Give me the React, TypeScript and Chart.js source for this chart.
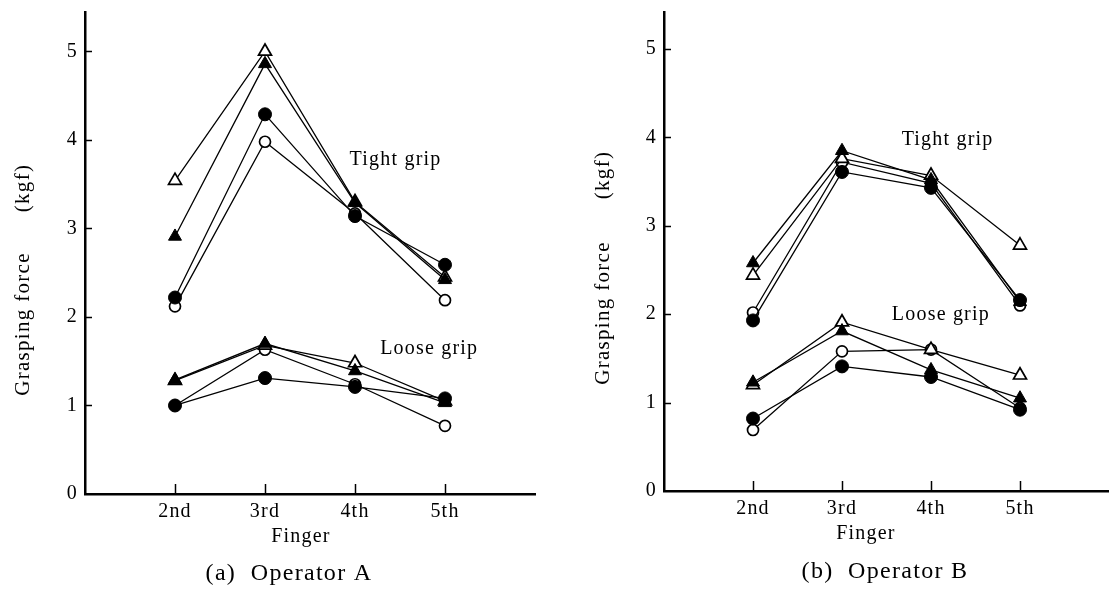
import React, { useEffect, useRef } from 'react';
import { Chart, registerables } from 'chart.js';

Chart.register(...registerables);

// ---------- data ----------
const fingers = ['2nd', '3rd', '4th', '5th'];
const fingerPos = [1, 2, 3, 4];
const yTicks = [0, 1, 2, 3, 4, 5];

// Operator A – tight grip
const aTightOpenTri = [3.54, 5.0, 3.3, 2.45];
const aTightFilledTri = [2.91, 4.86, 3.29, 2.42];
const aTightFilledCirc = [2.22, 4.29, 3.14, 2.59];
const aTightOpenCirc = [2.12, 3.98, 3.17, 2.19];
// Operator A – loose grip
const aLooseOpenTri = [1.28, 1.68, 1.48, 1.05];
const aLooseFilledTri = [1.29, 1.7, 1.39, 1.03];
const aLooseFilledCirc = [1.0, 1.31, 1.21, 1.08];
const aLooseOpenCirc = [1.0, 1.63, 1.24, 0.77];

// Operator B – tight grip
const bTightOpenTri = [2.44, 3.76, 3.57, 2.78];
const bTightFilledTri = [2.58, 3.85, 3.52, 2.14];
const bTightFilledCirc = [1.93, 3.61, 3.43, 2.16];
const bTightOpenCirc = [2.02, 3.72, 3.48, 2.1];
// Operator B – loose grip
const bLooseOpenTri = [1.2, 1.91, 1.6, 1.31];
const bLooseFilledTri = [1.23, 1.81, 1.37, 1.05];
const bLooseFilledCirc = [0.82, 1.41, 1.29, 0.92];
const bLooseOpenCirc = [0.69, 1.58, 1.6, 0.94];

const yAxisTitle = ['Grasping force', '(kgf)'];
const xAxisTitle = 'Finger';
const captionA = '(a)  Operator A';
const captionB = '(b)  Operator B';
const tightLabel = 'Tight grip';
const looseLabel = 'Loose grip';

type Series = { values: number[]; shape: 'triangle' | 'circle'; filled: boolean };

const seriesA: Series[] = [
  { values: aTightFilledTri, shape: 'triangle', filled: true },
  { values: aTightFilledCirc, shape: 'circle', filled: true },
  { values: aTightOpenTri, shape: 'triangle', filled: false },
  { values: aTightOpenCirc, shape: 'circle', filled: false },
  { values: aLooseFilledTri, shape: 'triangle', filled: true },
  { values: aLooseFilledCirc, shape: 'circle', filled: true },
  { values: aLooseOpenTri, shape: 'triangle', filled: false },
  { values: aLooseOpenCirc, shape: 'circle', filled: false },
];

const seriesB: Series[] = [
  { values: bTightFilledTri, shape: 'triangle', filled: true },
  { values: bTightFilledCirc, shape: 'circle', filled: true },
  { values: bTightOpenTri, shape: 'triangle', filled: false },
  { values: bTightOpenCirc, shape: 'circle', filled: false },
  { values: bLooseFilledTri, shape: 'triangle', filled: true },
  { values: bLooseFilledCirc, shape: 'circle', filled: true },
  { values: bLooseOpenTri, shape: 'triangle', filled: false },
  { values: bLooseOpenCirc, shape: 'circle', filled: false },
];

// ---------- layout ----------
const FONT = "'Liberation Serif', 'Times New Roman', serif";

type Panel = {
  series: Series[];
  caption: string;
  width: number;
  left: number;
  axisWidth: number;
  xAxisHeight: number;
  padRight: number;
  yMax: number;
  tightAt: { x: number; y: number };
  looseAt: { x: number; y: number };
  titleX: number;
  graspY: number;
  kgfY: number;
  fingerX: number;
  fingerY: number;
  captionX: number;
  captionY: number;
};

const panels: Panel[] = [
  {
    series: seriesA, caption: captionA, width: 555, left: 0,
    axisWidth: 85, xAxisHeight: 96, padRight: 20, yMax: 5.446,
    tightAt: { x: 2.94, y: 3.72 }, looseAt: { x: 3.28, y: 1.58 },
    titleX: 23, graspY: 324, kgfY: 188,
    fingerX: 301, fingerY: 542, captionX: 289, captionY: 580,
  },
  {
    series: seriesB, caption: captionB, width: 554, left: 555,
    axisWidth: 109, xAxisHeight: 99, padRight: 0, yMax: 5.42,
    tightAt: { x: 2.67, y: 3.91 }, looseAt: { x: 2.56, y: 1.93 },
    titleX: 48, graspY: 313, kgfY: 175,
    fingerX: 311, fingerY: 539, captionX: 330, captionY: 578,
  },
];

function makeDatasets(series: Series[]) {
  return series.map((s) => ({
    data: fingerPos.map((x, i) => ({ x, y: s.values[i] })),
    borderColor: '#000',
    borderWidth: 1.3,
    pointStyle: s.shape,
    pointRadius: s.shape === 'triangle' ? 7.5 : s.filled ? 6.5 : 5.5,
    pointBackgroundColor: s.filled ? '#000' : '#fff',
    pointBorderColor: '#000',
    pointBorderWidth: s.filled ? 1 : 1.7,
    fill: false,
    tension: 0,
  }));
}

function makePlugin(p: Panel) {
  return {
    id: 'panelDecor',
    beforeDraw(chart: any) {
      (chart.ctx as any).letterSpacing = '1.2px';
    },
    afterDraw(chart: any) {
      const ctx = chart.ctx as CanvasRenderingContext2D;
      const xs = chart.scales.x;
      const ys = chart.scales.y;
      const area = chart.chartArea;
      ctx.save();
      (ctx as any).letterSpacing = '1.2px';
      ctx.strokeStyle = '#000';
      ctx.fillStyle = '#000';
      // inward ticks
      ctx.lineWidth = 1.5;
      fingerPos.forEach((v) => {
        const px = Math.round(xs.getPixelForValue(v)) + 0.5;
        ctx.beginPath();
        ctx.moveTo(px, area.bottom);
        ctx.lineTo(px, area.bottom - 10);
        ctx.stroke();
      });
      yTicks.forEach((v) => {
        if (v === 0) return;
        const py = Math.round(ys.getPixelForValue(v)) + 0.5;
        ctx.beginPath();
        ctx.moveTo(area.left, py);
        ctx.lineTo(area.left + 7, py);
        ctx.stroke();
      });
      // grip annotations
      ctx.font = `20px ${FONT}`;
      ctx.textAlign = 'left';
      ctx.textBaseline = 'alphabetic';
      ctx.fillText(tightLabel, xs.getPixelForValue(p.tightAt.x), ys.getPixelForValue(p.tightAt.y));
      ctx.fillText(looseLabel, xs.getPixelForValue(p.looseAt.x), ys.getPixelForValue(p.looseAt.y));
      // x axis title
      ctx.textAlign = 'center';
      ctx.fillText(xAxisTitle, p.fingerX, p.fingerY);
      // caption
      ctx.font = `24px ${FONT}`;
      (ctx as any).letterSpacing = '1.3px';
      ctx.fillText(p.caption, p.captionX, p.captionY);
      // y axis title (rotated)
      ctx.font = `21px ${FONT}`;
      ctx.textBaseline = 'middle';
      [[yAxisTitle[0], p.graspY], [yAxisTitle[1], p.kgfY]].forEach(([t, cy]) => {
        ctx.save();
        ctx.translate(p.titleX, cy as number);
        ctx.rotate(-Math.PI / 2);
        ctx.fillText(t as string, 0, 0);
        ctx.restore();
      });
      ctx.restore();
    },
  };
}

function zeroPad(s: any) {
  s.paddingTop = 0;
  s.paddingBottom = 0;
  s.paddingLeft = 0;
  s.paddingRight = 0;
}

function PanelChart({ p }: { p: Panel }) {
  const ref = useRef<HTMLCanvasElement | null>(null);
  useEffect(() => {
    if (!ref.current) return;
    const chart = new Chart(ref.current, {
      type: 'line',
      data: { datasets: makeDatasets(p.series) as any },
      options: {
        animation: false,
        responsive: false,
        devicePixelRatio: 1,
        layout: { autoPadding: false, padding: { top: 12, right: p.padRight, left: 0, bottom: 0 } },
        plugins: { legend: { display: false }, tooltip: { enabled: false }, title: { display: false } },
        scales: {
          x: {
            type: 'linear',
            min: 0,
            max: 5,
            grid: { display: false, drawTicks: false },
            border: { display: true, color: '#000', width: 2.5 },
            afterBuildTicks: (s: any) => { s.ticks = fingerPos.map((v) => ({ value: v })); },
            afterFit: (s: any) => { s.height = p.xAxisHeight; zeroPad(s); },
            ticks: {
              color: '#000',
              padding: 6,
              autoSkip: false,
              maxRotation: 0,
              font: { family: FONT, size: 20 },
              callback: (v: any) => fingers[fingerPos.indexOf(Number(v))] ?? '',
            },
          },
          y: {
            type: 'linear',
            min: 0,
            max: p.yMax,
            grid: { display: false, drawTicks: false },
            border: { display: true, color: '#000', width: 2.5 },
            afterBuildTicks: (s: any) => { s.ticks = yTicks.map((v) => ({ value: v })); },
            afterFit: (s: any) => { s.width = p.axisWidth; zeroPad(s); },
            ticks: {
              color: '#000',
              padding: 7,
              font: { family: FONT, size: 20 },
              callback: (v: any) => String(v),
            },
          },
        },
      },
      plugins: [makePlugin(p)],
    });
    return () => chart.destroy();
  }, [p]);
  return (
    <canvas
      ref={ref}
      width={p.width}
      height={590}
      style={{ position: 'absolute', left: p.left, top: 0, width: p.width, height: 590 }}
    />
  );
}

export default function App() {
  return (
    <div style={{ position: 'absolute', left: 0, top: 0, width: 1109, height: 590, background: '#fff' }}>
      {panels.map((p, i) => (
        <PanelChart key={i} p={p} />
      ))}
    </div>
  );
}
